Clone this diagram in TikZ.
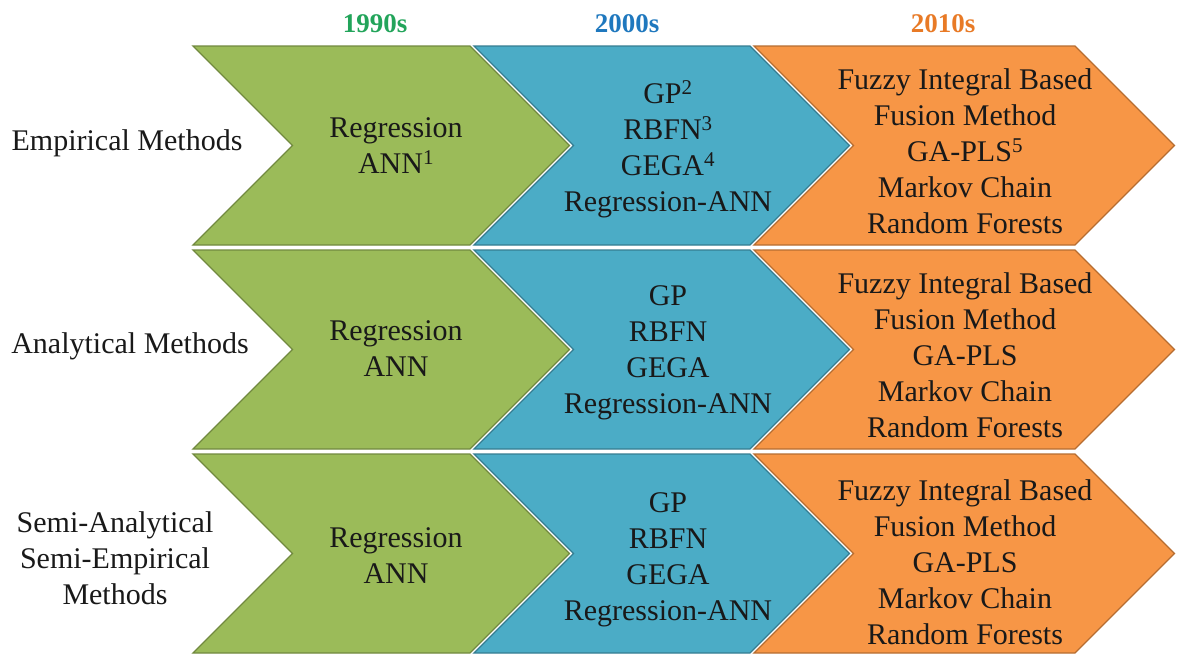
\documentclass[tikz,border=0pt]{standalone}
\usepackage{fontspec}
\setmainfont{Liberation Serif}
\definecolor{gfill}{HTML}{9BBB59}
\definecolor{gline}{HTML}{71893F}
\definecolor{bfill}{HTML}{4BACC6}
\definecolor{bline}{HTML}{357D91}
\definecolor{ofill}{HTML}{F79646}
\definecolor{oline}{HTML}{B66D31}
\definecolor{hgreen}{HTML}{22A45A}
\definecolor{hblue}{HTML}{1F78BE}
\definecolor{horange}{HTML}{E87A26}
\tikzset{
  body/.style={font=\fontsize{30}{36}\selectfont, align=center, text=black!90, inner sep=0pt},
  head/.style={font=\fontsize{27}{32}\selectfont\bfseries, inner sep=0pt},
  chevgreen/.style={fill=gfill, draw=gline, line width=1.3pt, line join=miter},
  chevblue/.style={fill=bfill, draw=bline, line width=1.3pt, line join=miter},
  chevorange/.style={fill=ofill, draw=oline, line width=1.3pt, line join=miter},
}
% chevron: style, left x, right x, top y, bottom y
\newcommand\chevron[5]{%
  \pgfmathsetmacro\hh{(#5-#4)/2}%
  \path[#1] (#2,#4) -- (#3,#4) -- (#3+\hh,#4+\hh) -- (#3,#5) -- (#2,#5)
    -- (#2+\hh,#4+\hh) -- cycle;}
\begin{document}
\begin{tikzpicture}[x=1pt,y=-1pt]
\useasboundingbox (0,0) rectangle (1178,656);

% era headings
\node[head, text=hgreen]  (h1) at (375,24) {1990s};
\node[head, text=hblue]   (h2) at (627,24) {2000s};
\node[head, text=horange] (h3) at (943,24) {2010s};

% three rows of chevrons
\foreach \yt/\yb in {46/245, 250/449, 454/653}{
  \chevron{chevgreen}{193}{470}{\yt}{\yb}
  \chevron{chevblue}{474}{750}{\yt}{\yb}
  \chevron{chevorange}{754}{1075}{\yt}{\yb}
}

% row labels
\node[body] (r1) at (127,143) {Empirical Methods};
\node[body] (r2) at (130,346) {Analytical Methods};
\node[body] (r3) at (115,558) {Semi-Analytical\\Semi-Empirical\\Methods};

% row 1
\node[body] (g1) at (396,146) {Regression\\ANN\textsuperscript{1}};
\node[body] (b1) at (668,149) {GP\textsuperscript{2}\\RBFN\textsuperscript{3}\\GEGA\textsuperscript{4}\\Regression-ANN};
\node[body] (o1) at (965,151) {Fuzzy Integral Based\\Fusion Method\\GA-PLS\textsuperscript{5}\\Markov Chain\\Random Forests};

% row 2
\node[body] (g2) at (396,349) {Regression\\ANN};
\node[body] (b2) at (668,353) {GP\\RBFN\\GEGA\\Regression-ANN};
\node[body] (o2) at (965,355) {Fuzzy Integral Based\\Fusion Method\\GA-PLS\\Markov Chain\\Random Forests};

% row 3
\node[body] (g3) at (396,556) {Regression\\ANN};
\node[body] (b3) at (668,560) {GP\\RBFN\\GEGA\\Regression-ANN};
\node[body] (o3) at (965,562) {Fuzzy Integral Based\\Fusion Method\\GA-PLS\\Markov Chain\\Random Forests};
\end{tikzpicture}
\end{document}
